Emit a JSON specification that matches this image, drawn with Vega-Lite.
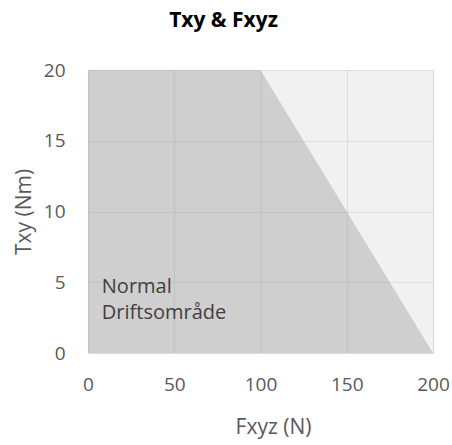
{
  "$schema": "https://vega.github.io/schema/vega-lite/v6.json",
  "width": 345,
  "height": 283,
  "autosize": {"type": "none"},
  "padding": {"left": 88, "top": 70, "right": 19, "bottom": 92},
  "background": "white",
  "title": {"text": "Txy & Fxyz", "fontSize": 21, "fontWeight": "bold", "font": "Open Sans", "color": "#000000", "offset": 30, "anchor": "middle", "dx": -37},
  "config": {"view": {"stroke": null}},
  "datasets": {
    "limit": [
      {"Fxyz": 0, "Txy": 20, "top": 20},
      {"Fxyz": 100, "Txy": 20, "top": 20},
      {"Fxyz": 200, "Txy": 0, "top": 20}
    ],
    "labels": [
      {"Fxyz": 8, "Txy": 4.66, "label": "Normal"},
      {"Fxyz": 8, "Txy": 2.83, "label": "Driftsområde"}
    ]
  },
  "layer": [
    {
      "data": {"name": "limit"},
      "mark": {"type": "area", "color": "#e4e4e4", "opacity": 0.5},
      "encoding": {
        "x": {"field": "Fxyz", "type": "quantitative", "scale": {"domain": [0, 200]},
          "axis": {"values": [0, 50, 100, 150, 200], "title": "Fxyz (N)", "grid": true, "gridColor": "#d9d9d9", "gridWidth": 1.2, "domain": false, "ticks": false, "labelFlush": false, "labelFontSize": 19, "labelColor": "#595959", "labelFont": "Open Sans", "labelPadding": 22, "titleFontSize": 21, "titleColor": "#595959", "titleFont": "Open Sans", "titleFontWeight": "normal", "titlePadding": 22, "titleX": 185}},
        "y": {"field": "Txy", "type": "quantitative", "scale": {"domain": [0, 20]},
          "axis": {"values": [0, 5, 10, 15, 20], "title": "Txy (Nm)", "grid": true, "gridColor": "#d9d9d9", "gridWidth": 1.2, "domain": false, "ticks": false, "labelFlush": false, "labelFontSize": 19, "labelColor": "#595959", "labelFont": "Open Sans", "labelPadding": 23, "titleFontSize": 21, "titleColor": "#595959", "titleFont": "Open Sans", "titleFontWeight": "normal", "titlePadding": 9}},
        "y2": {"field": "top"}
      }
    },
    {
      "data": {"name": "limit"},
      "mark": {"type": "area", "color": "#b8b8b8", "opacity": 0.68},
      "encoding": {
        "x": {"field": "Fxyz", "type": "quantitative"},
        "y": {"field": "Txy", "type": "quantitative"},
        "y2": {"datum": 0}
      }
    },
    {
      "data": {"name": "labels"},
      "mark": {"type": "text", "align": "left", "baseline": "middle", "fontSize": 20, "font": "Open Sans", "color": "#404040"},
      "encoding": {
        "x": {"field": "Fxyz", "type": "quantitative"},
        "y": {"field": "Txy", "type": "quantitative"},
        "text": {"field": "label"}
      }
    }
  ]
}
